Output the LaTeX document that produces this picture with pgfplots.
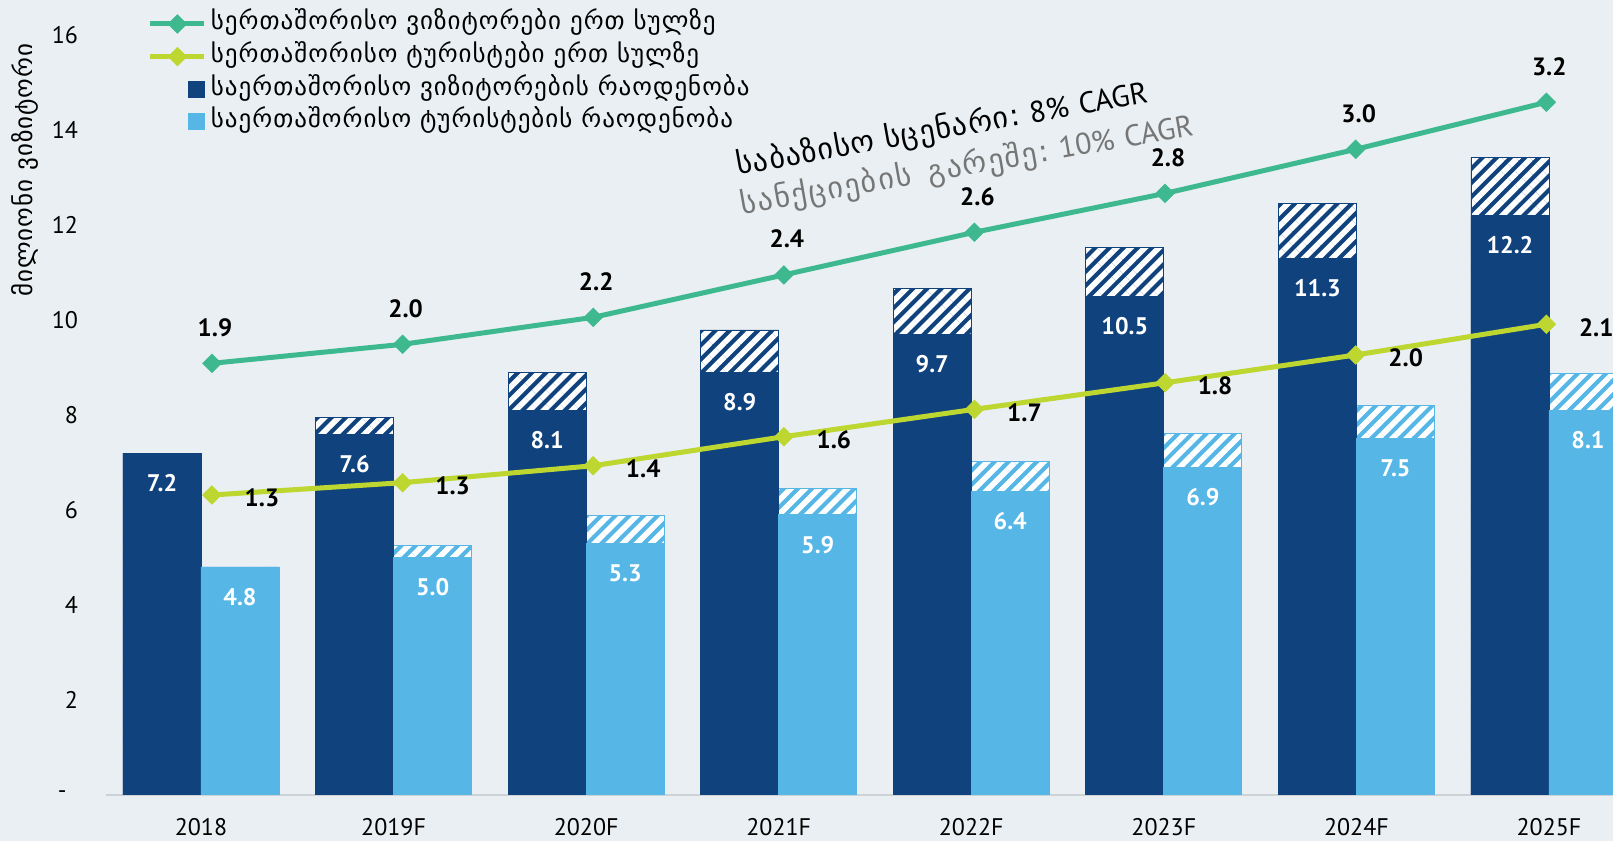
\documentclass[border=0pt]{standalone}
\usepackage{pgfplots}
\pgfplotsset{compat=1.18}
\usepackage{pgfplotstable}
\usepackage{fontspec}
\setmainfont{PT Sans}
\newfontfamily\geo{DejaVu Sans}
\newfontfamily\geols{DejaVu Sans}[LetterSpace=4.0]
\newfontfamily\geolls{DejaVu Sans}[LetterSpace=6.0]
\usetikzlibrary{patterns.meta}
\definecolor{bgc}{RGB}{233,239,242}
\definecolor{dblue}{RGB}{16,66,126}
\definecolor{lblue}{RGB}{86,182,230}
\definecolor{lgreen}{RGB}{62,185,143}
\definecolor{lyellow}{RGB}{189,214,48}
\definecolor{axgray}{RGB}{205,210,214}
\definecolor{anngray}{RGB}{118,118,118}

\pgfplotstableread{
x vis visall tour tourall
0 7.2 7.2 4.8 4.8
1 7.6 7.95 5.0 5.25
2 8.1 8.89 5.3 5.89
3 8.9 9.79 5.9 6.46
4 9.7 10.67 6.4 7.03
5 10.5 11.52 6.9 7.62
6 11.3 12.45 7.5 8.21
7 12.2 13.42 8.1 8.88
}\bardata

\pgfplotstableread{
x green glab yellow ylab
0 1.929 1.9 1.299 1.3
1 2.020 2.0 1.358 1.3
2 2.149 2.2 1.439 1.4
3 2.352 2.4 1.578 1.6
4 2.556 2.6 1.709 1.7
5 2.742 2.8 1.836 1.8
6 2.953 3.0 1.969 2.0
7 3.178 3.2 2.116 2.1
}\linedata

\begin{document}
\begin{tikzpicture}
\fill[bgc] (-53pt,-23pt) rectangle (753.5pt,397.5pt);

\begin{axis}[
  at={(0pt,0pt)}, anchor=south west, scale only axis,
  width=753.5pt, height=397.5pt,
  xmin=-0.4933, xmax=7.3324, ymin=0, ymax=16.737,
  axis x line*=bottom, axis y line*=left,
  x axis line style={draw=axgray, line width=0.8pt},
  y axis line style={draw=none},
  major tick length=0pt, tick style={draw=none},
  xtick={0,...,7},
  xticklabels={2018,2019F,2020F,2021F,2022F,2023F,2024F,2025F},
  ytick={0,2,...,16},
  yticklabels={{\makebox[10pt][l]{-}},2,4,6,8,10,12,14,16},
  tick label style={font=\fontsize{12}{14}\selectfont, text=black},
  yticklabel style={xshift=-10.5pt},
  xticklabel style={yshift=-8pt},
  ylabel={\geols მილიონი ვიზიტორი},
  ylabel style={at={(rel axis cs:-0.05375,0.786)}, anchor=center, font=\fontsize{12.5}{14}\selectfont},
  clip=true,
]
\addplot[ybar, bar width=39pt, bar shift=-19.5pt, fill=dblue, draw=dblue, line width=0.4pt,
  postaction={pattern={Lines[angle=45,distance=5pt,line width=2.8pt]}, pattern color=white}]
  table[x=x,y=visall]{\bardata};
\addplot[ybar, bar width=39pt, bar shift=19.5pt, fill=lblue, draw=lblue, line width=0.4pt,
  postaction={pattern={Lines[angle=45,distance=5pt,line width=2.8pt]}, pattern color=white}]
  table[x=x,y=tourall]{\bardata};
\addplot[ybar, bar width=39pt, bar shift=-19.5pt, fill=dblue, draw=dblue, line width=0.4pt,
  nodes near coords, point meta=explicit symbolic,
  every node near coord/.append style={anchor=center, xshift=-19.5pt, yshift=-15pt, text=white, font=\bfseries\fontsize{12}{14}\selectfont}]
  table[x=x,y=vis,meta=vis]{\bardata};
\addplot[ybar, bar width=39pt, bar shift=19.5pt, fill=lblue, draw=lblue, line width=0.4pt,
  nodes near coords, point meta=explicit symbolic,
  every node near coord/.append style={anchor=center, xshift=19.5pt, yshift=-15pt, text=white, font=\bfseries\fontsize{12}{14}\selectfont}]
  table[x=x,y=tour,meta=tour]{\bardata};
\end{axis}

\begin{axis}[
  at={(0pt,0pt)}, anchor=south west, scale only axis,
  width=753.5pt, height=397.5pt,
  xmin=-0.556, xmax=7.350, ymin=-0.1364, ymax=3.6675,
  hide axis, clip=false,
  legend cell align=left,
  legend style={at={(rel axis cs:0.0305,1)}, anchor=north west, xshift=-2pt, yshift=-6pt,
    draw=none, fill=none,
    inner sep=0pt, outer sep=0pt, row sep=4.3pt,
    font=\geols\fontsize{12.5}{14}\selectfont,
    nodes={inner xsep=2pt, inner ysep=0pt, text height=9pt, text depth=3pt}},
]
\addplot[color=lgreen, line width=2.5pt, mark=square*, mark size=3.2pt,
  mark options={rotate=45, fill=lgreen, draw=lgreen, line width=0.5pt},
  legend image code/.code={\draw[mark repeat=2,mark phase=2] plot coordinates {(0pt,0pt) (13.5pt,0pt) (27pt,0pt)};},
  nodes near coords, point meta=explicit symbolic,
  every node near coord/.append style={anchor=center, yshift=18pt, xshift=1.5pt, text=black, font=\bfseries\fontsize{12.5}{14}\selectfont}]
  table[x=x,y=green,meta=glab]{\linedata};
\addlegendentry{სერთაშორისო ვიზიტორები ერთ სულზე}
\addplot[color=lyellow, line width=2.5pt, mark=square*, mark size=3.2pt,
  mark options={rotate=45, fill=lyellow, draw=lyellow, line width=0.5pt},
  legend image code/.code={\draw[mark repeat=2,mark phase=2] plot coordinates {(0pt,0pt) (13.5pt,0pt) (27pt,0pt)};},
  nodes near coords, point meta=explicit symbolic,
  every node near coord/.append style={anchor=center, xshift=25pt, yshift=-1.5pt, text=black, font=\bfseries\fontsize{12.5}{14}\selectfont}]
  table[x=x,y=yellow,meta=ylab]{\linedata};
\addlegendentry{სერთაშორისო ტურისტები ერთ სულზე}
\addlegendimage{legend image code/.code={\fill[dblue] (19pt,-4pt) rectangle (27pt,4pt);}}
\addlegendentry{საერთაშორისო ვიზიტორების რაოდენობა}
\addlegendimage{legend image code/.code={\fill[lblue] (19pt,-4pt) rectangle (27pt,4pt);}}
\addlegendentry{საერთაშორისო ტურისტების რაოდენობა}
\end{axis}

\tikzset{ann/.style={rotate=10, anchor=base west, inner sep=0pt, font=\fontsize{15}{16}\selectfont}}
% base scenario (split into words along a 10 degree baseline)
\node[ann] (a1) at (316pt,310pt) {\geols საბაზისო};
\node[ann] (a2) at ([shift={(4.73pt,0.83pt)}]a1.base east) {\geols სცენარი:};
\node[ann] (a3) at ([shift={(4.73pt,0.83pt)}]a2.base east) {8\%};
\node[ann] (a4) at ([shift={(4.73pt,0.83pt)}]a3.base east) {CAGR};
% without sanctions
\node[ann, text=anngray] (b1) at (318pt,290pt) {\geolls სანქციების};
\node[ann, text=anngray] (b2) at ([shift={(7.88pt,1.39pt)}]b1.base east) {\geolls გარეშე:};
\node[ann, text=anngray] (b3) at ([shift={(4.73pt,0.83pt)}]b2.base east) {10\%};
\node[ann, text=anngray] (b4) at ([shift={(4.73pt,0.83pt)}]b3.base east) {CAGR};

\pgfresetboundingbox
\path[use as bounding box] (-53pt,-23pt) rectangle (753.5pt,397.5pt);
\end{tikzpicture}
\end{document}
